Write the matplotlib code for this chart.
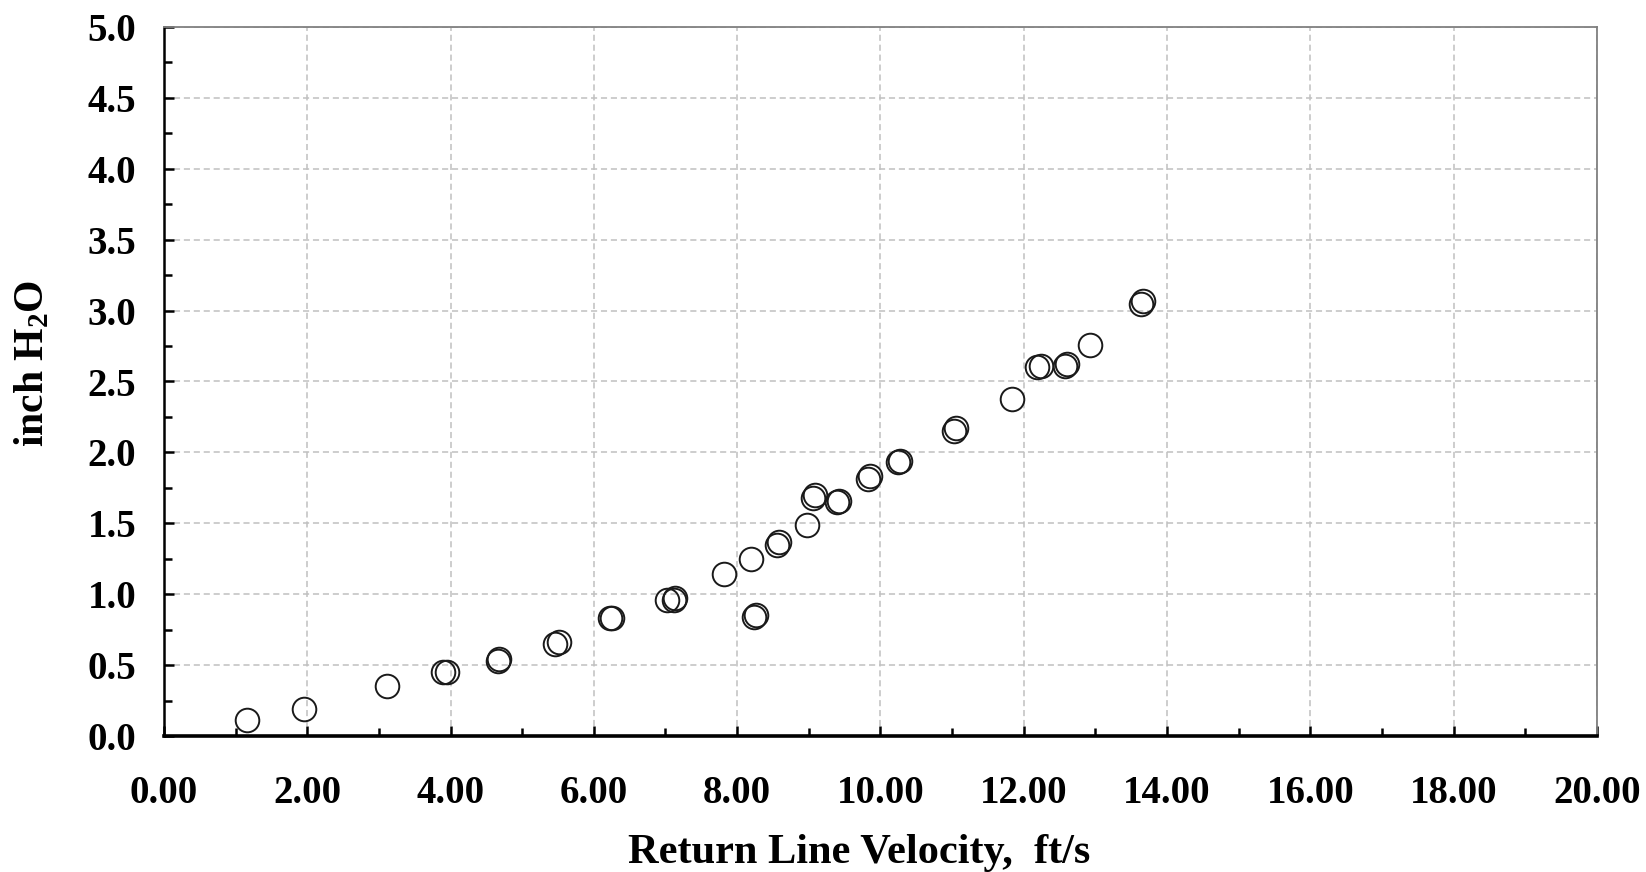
import matplotlib

matplotlib.use("Agg")
import matplotlib.pyplot as plt
from matplotlib.ticker import MultipleLocator, FormatStrFormatter

# return line velocity (ft/s) vs pressure drop (inch H2O)
velocity = [1.16, 1.95, 3.12, 3.90, 3.95, 4.66, 4.68, 5.46, 5.52, 6.23, 6.26,
            7.02, 7.12, 7.13, 7.81, 8.20, 8.24, 8.26, 8.56, 8.59, 8.98, 9.06,
            9.08, 9.40, 9.42, 9.83, 9.85, 10.25, 10.27, 11.03, 11.06, 11.83,
            12.19, 12.24, 12.57, 12.60, 12.92, 13.64, 13.66]
pressure = [0.11, 0.19, 0.35, 0.45, 0.45, 0.53, 0.54, 0.65, 0.66, 0.83, 0.83,
            0.96, 0.96, 0.97, 1.14, 1.25, 0.84, 0.85, 1.35, 1.37, 1.49, 1.68,
            1.70, 1.65, 1.66, 1.81, 1.83, 1.93, 1.94, 2.15, 2.17, 2.38,
            2.60, 2.61, 2.61, 2.62, 2.76, 3.05, 3.07]

x_label = "Return Line Velocity,  ft/s"
y_label = "inch H$_2$O"

plt.rcParams["font.family"] = ["Liberation Serif", "DejaVu Serif"]
plt.rcParams["font.weight"] = "bold"
plt.rcParams["mathtext.fontset"] = "custom"
plt.rcParams["mathtext.rm"] = "Liberation Serif:bold"
plt.rcParams["mathtext.it"] = "Liberation Serif:bold"
plt.rcParams["mathtext.bf"] = "Liberation Serif:bold"

fig = plt.figure(figsize=(16.46, 8.72), dpi=100)
ax = fig.add_axes([0.0996, 0.156, 0.8706, 0.813])

ax.plot(velocity, pressure, linestyle="none", marker="o", markersize=17,
        markerfacecolor="none", markeredgecolor="#1a1a1a", markeredgewidth=1.4,
        clip_on=False, zorder=3)

ax.set_xlim(0, 20)
ax.set_ylim(0, 5)
ax.xaxis.set_major_locator(MultipleLocator(2))
ax.xaxis.set_minor_locator(MultipleLocator(1))
ax.yaxis.set_major_locator(MultipleLocator(0.5))
ax.yaxis.set_minor_locator(MultipleLocator(0.25))
ax.xaxis.set_major_formatter(FormatStrFormatter("%.2f"))
ax.yaxis.set_major_formatter(FormatStrFormatter("%.1f"))

ax.grid(True, which="major", color="#c0c0c0", linestyle=(0, (4, 2.5)), linewidth=1.1)
ax.set_axisbelow(True)

for side in ("top", "right"):
    ax.spines[side].set_color("#808080")
    ax.spines[side].set_linewidth(1.3)
ax.spines["left"].set_color("black")
ax.spines["left"].set_linewidth(1.8)
ax.spines["bottom"].set_color("black")
ax.spines["bottom"].set_linewidth(2.6)

ax.tick_params(axis="both", which="both", direction="in", color="black", width=1.8)
ax.tick_params(axis="both", which="major", length=7.5)
ax.tick_params(axis="both", which="minor", length=6)
ax.tick_params(axis="x", which="major", labelsize=28, pad=28)
ax.tick_params(axis="y", which="major", labelsize=28, pad=20)

ax.set_xlabel(x_label, fontsize=30.5, fontweight="bold", labelpad=16)
ax.set_ylabel(y_label, fontsize=30, fontweight="bold", labelpad=25)
# labels sit a little off-centre in the original
ax.xaxis.label.set_x(0.485)
ax.yaxis.label.set_y(0.525)

fig.savefig("out.png", dpi=100)
